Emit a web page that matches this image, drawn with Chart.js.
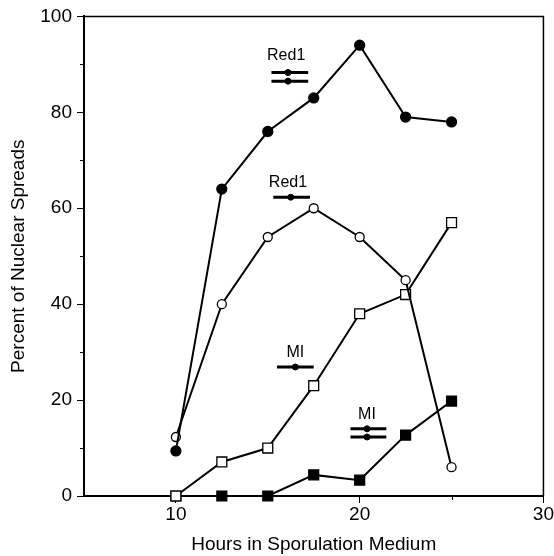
<!DOCTYPE html>
<html>
<head>
<meta charset="utf-8">
<script src="https://cdn.jsdelivr.net/npm/chart.js@4/dist/chart.umd.min.js"></script>
<style>
  html, body { margin: 0; padding: 0; background: #fff; }
  #wrap { width: 554px; height: 556px; }
</style>
</head>
<body>
<div id="wrap"><canvas id="sporChart" width="554" height="556"></canvas></div>
<script>
// hours in sporulation medium
const hours = [10, 12.5, 15, 17.5, 20, 22.5, 25];
// percent of nuclear spreads, one array per curve
const filledCircles = [9.4, 64, 76, 83, 94, 79, 78];
const openCircles = [12.3, 40, 54, 60, 54, 45, 6];
const openSquares = [0, 7.1, 10, 23, 38, 42, 57];
const filledSquares = [0, 0, 0, 4.4, 3.3, 12.7, 19.8];

// timing bars: [xStart, xEnd, xDot, y]
const timingBars = [
    [15.2, 17.2, 16.1, 88.3],
    [15.2, 17.2, 16.1, 86.5],
    [15.3, 17.3, 16.25, 62.3],
    [15.5, 17.5, 16.5, 26.9],
    [19.5, 21.45, 20.4, 14.0],
    [19.5, 21.45, 20.4, 12.3]
];
// labels above the bars: [text, x, y]
const barLabels = [
    ['Red1', 16.0, 91.9],
    ['Red1', 16.1, 65.4],
    ['MI', 16.5, 29.8],
    ['MI', 20.4, 16.9]
];

const xTicks = [10, 20, 30];
const yTicks = [0, 20, 40, 60, 80, 100];

const fontFamily = '"Liberation Sans", Arial, Helvetica, sans-serif';

function toPoints(ys) {
    return hours.map((h, i) => ({ x: h, y: ys[i] }));
}

function curve(ys, style, filled, radius) {
    return {
        data: toPoints(ys),
        borderColor: '#000',
        borderWidth: 2,
        pointStyle: style,
        pointRadius: radius,
        pointBackgroundColor: filled ? '#000' : '#fff',
        pointBorderColor: '#000',
        pointBorderWidth: 1.3,
        clip: false
    };
}

const datasets = [
    curve(filledCircles, 'circle', true, 5),
    curve(openCircles, 'circle', false, 4.5),
    curve(openSquares, 'rect', false, 7),
    curve(filledSquares, 'rect', true, 7)
];

timingBars.forEach(b => {
    datasets.push({
        data: [{ x: b[0], y: b[3] }, { x: b[1], y: b[3] }],
        borderColor: '#000',
        borderWidth: 3,
        pointRadius: 0
    });
    datasets.push({
        data: [{ x: b[2], y: b[3] }],
        showLine: false,
        pointRadius: 3,
        pointBackgroundColor: '#000',
        pointBorderColor: '#000'
    });
});

// frame, minor ticks and bar labels
const extras = {
    id: 'extras',
    afterDraw(chart) {
        const ctx = chart.ctx;
        const area = chart.chartArea;
        const xs = chart.scales.x;
        const ys = chart.scales.y;
        ctx.save();
        ctx.strokeStyle = '#000';
        ctx.lineWidth = 1.5;
        ctx.beginPath();
        ctx.moveTo(area.left, area.top);
        ctx.lineTo(area.right, area.top);
        ctx.lineTo(area.right, area.bottom);
        ctx.stroke();

        ctx.lineWidth = 1;
        ctx.beginPath();
        for (let v = 10; v < 100; v += 20) {
            const py = Math.round(ys.getPixelForValue(v)) + 0.5;
            ctx.moveTo(area.left - 4, py);
            ctx.lineTo(area.left, py);
        }
        [15, 25].forEach(v => {
            const px = Math.round(xs.getPixelForValue(v)) + 0.5;
            ctx.moveTo(px, area.bottom);
            ctx.lineTo(px, area.bottom + 4);
        });
        ctx.stroke();

        ctx.fillStyle = '#000';
        ctx.font = '16px ' + fontFamily;
        ctx.textAlign = 'center';
        ctx.textBaseline = 'middle';
        barLabels.forEach(l => {
            ctx.fillText(l[0], xs.getPixelForValue(l[1]), ys.getPixelForValue(l[2]));
        });
        ctx.restore();
    }
};

const ctx = document.getElementById('sporChart').getContext('2d');
new Chart(ctx, {
    type: 'line',
    data: { datasets },
    options: {
        responsive: false,
        animation: false,
        layout: { padding: { top: 16, right: 8, left: 0, bottom: 0 } },
        plugins: {
            legend: { display: false },
            tooltip: { enabled: false }
        },
        scales: {
            x: {
                type: 'linear',
                min: 5,
                max: 30,
                afterBuildTicks: scale => { scale.ticks = xTicks.map(v => ({ value: v })); },
                afterFit: scale => { scale.height = 60; },
                grid: { drawOnChartArea: false, tickLength: 7, color: '#000', tickWidth: 1 },
                border: { color: '#000', width: 2 },
                ticks: { color: '#000', font: { family: fontFamily, size: 19 }, padding: 0, maxRotation: 0 },
                title: {
                    display: true,
                    text: 'Hours in Sporulation Medium',
                    color: '#000',
                    font: { family: fontFamily, size: 19 },
                    padding: { top: 0, bottom: 0 }
                }
            },
            y: {
                type: 'linear',
                min: 0,
                max: 100,
                afterBuildTicks: scale => { scale.ticks = yTicks.map(v => ({ value: v })); },
                afterFit: scale => { scale.width = 84; },
                grid: { drawOnChartArea: false, tickLength: 7, color: '#000', tickWidth: 1 },
                border: { color: '#000', width: 2 },
                ticks: { color: '#000', font: { family: fontFamily, size: 19 }, padding: 5 },
                title: {
                    display: true,
                    text: 'Percent of Nuclear Spreads',
                    color: '#000',
                    font: { family: fontFamily, size: 19 },
                    padding: { top: 7, bottom: 0 }
                }
            }
        }
    },
    plugins: [extras]
});
</script>
</body>
</html>
